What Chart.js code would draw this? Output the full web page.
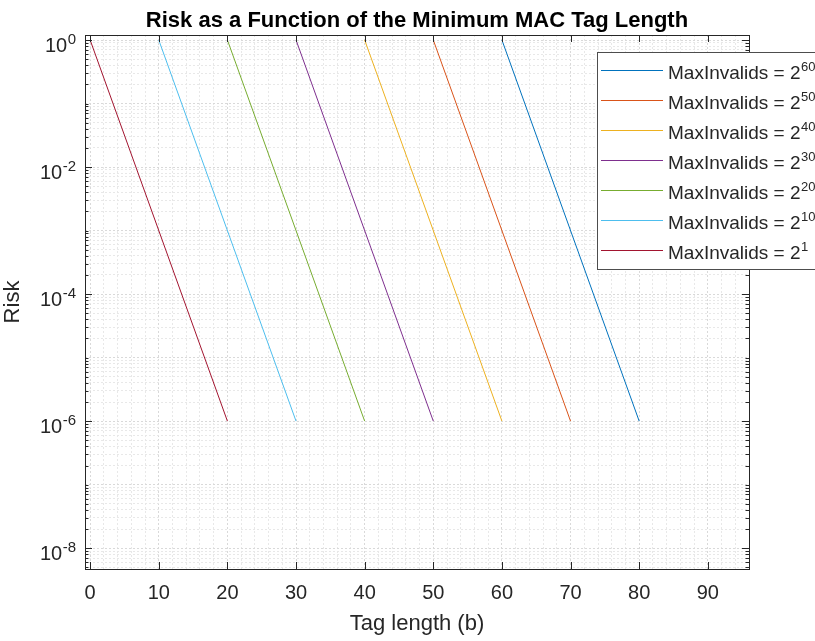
<!DOCTYPE html>
<html>
<head>
<meta charset="utf-8">
<script src="https://cdn.jsdelivr.net/npm/chart.js@4.4.1/dist/chart.umd.min.js"></script>
<style>
  body { margin: 0; background: #fff; }
  #wrap { width: 815px; height: 641px; }
</style>
</head>
<body>
<div id="wrap"><canvas id="riskChart" width="815" height="641"></canvas></div>
<script>
// one line per MaxInvalids value: risk falls from 1 to 1e-6 over 20 bits
const maxInvalidExps = ['60', '50', '40', '30', '20', '10', '1'];
const tagStart = [60, 50, 40, 30, 20, 10, 0];
const tagEnd = [80, 70, 60, 50, 40, 30, 20];
const riskStart = [1, 1, 1, 1, 1, 1, 1];
const riskEnd = [1e-6, 1e-6, 1e-6, 1e-6, 1e-6, 1e-6, 1e-6];

// axis ticks
const xTickValues = [0, 10, 20, 30, 40, 50, 60, 70, 80, 90];
const yTickValues = [1, 1e-2, 1e-4, 1e-6, 1e-8];
const yTickExps = ['0', '-2', '-4', '-6', '-8'];

// matlab default colour order
const lineColors = ['#0072BD', '#D95319', '#EDB120', '#7E2F8E', '#77AC30', '#4DBEEE', '#A2142F'];

const FONT = "'Liberation Sans', Arial, Helvetica, sans-serif";
const AXIS_COLOR = '#262626';

const datasets = maxInvalidExps.map((e, i) => ({
    label: 'MaxInvalids = 2^' + e,
    data: [
        {x: tagStart[i], y: riskStart[i]},
        {x: tagEnd[i], y: riskEnd[i]}
    ],
    borderColor: lineColors[i],
    backgroundColor: lineColors[i],
    borderWidth: 1,
    pointRadius: 0,
    fill: false,
    tension: 0
}));

// box, inward ticks, y labels with superscripts and the legend box
const matlabAxes = {
    id: 'matlabAxes',
    afterDatasetsDraw(chart) {
        const ctx = chart.ctx;
        const {left, right, top, bottom} = chart.chartArea;
        const xs = chart.scales.x;
        const ys = chart.scales.y;
        ctx.save();
        ctx.strokeStyle = AXIS_COLOR;
        ctx.lineWidth = 1;
        ctx.strokeRect(Math.round(left) + 0.5, Math.round(top) + 0.5,
            Math.round(right - left), Math.round(bottom - top));

        ctx.beginPath();
        xTickValues.forEach(v => {
            const px = Math.round(xs.getPixelForValue(v)) + 0.5;
            ctx.moveTo(px, bottom); ctx.lineTo(px, bottom - 7);
            ctx.moveTo(px, top); ctx.lineTo(px, top + 7);
        });
        ys.ticks.forEach(t => {
            const py = Math.round(ys.getPixelForValue(t.value)) + 0.5;
            const len = yTickValues.some(v => Math.abs(v - t.value) / v < 1e-6) ? 7 : 3.5;
            ctx.moveTo(left, py); ctx.lineTo(left + len, py);
            ctx.moveTo(right, py); ctx.lineTo(right - len, py);
        });
        ctx.stroke();
        ctx.restore();
    },
    afterDraw(chart) {
        const ctx = chart.ctx;
        const ys = chart.scales.y;
        ctx.save();
        ctx.fillStyle = AXIS_COLOR;
        ctx.textBaseline = 'alphabetic';

        // y tick labels: 10^n
        yTickValues.forEach((v, i) => {
            const py = ys.getPixelForValue(v);
            ctx.font = '15px ' + FONT;
            const supW = ctx.measureText(yTickExps[i]).width;
            const xr = 76;
            ctx.textAlign = 'left';
            ctx.fillText(yTickExps[i], xr - supW, py + 3.5);
            ctx.font = '20px ' + FONT;
            ctx.textAlign = 'right';
            ctx.fillText('10', xr - supW - 0.5, py + 12);
        });

        // legend
        const bx = 597.5, by = 52.5, bw = 240, bh = 217;
        ctx.fillStyle = '#fff';
        ctx.fillRect(bx, by, bw, bh);
        ctx.strokeStyle = '#4d4d4d';
        ctx.lineWidth = 1;
        ctx.strokeRect(bx, by, bw, bh);
        chart.data.datasets.forEach((ds, i) => {
            const ly = 70.5 + i * 30;
            ctx.strokeStyle = ds.borderColor;
            ctx.beginPath();
            ctx.moveTo(601, ly); ctx.lineTo(663, ly);
            ctx.stroke();
            ctx.fillStyle = AXIS_COLOR;
            ctx.textAlign = 'left';
            ctx.font = '19px ' + FONT;
            const base = 'MaxInvalids = 2';
            ctx.fillText(base, 668, ly + 8);
            const w = ctx.measureText(base).width;
            ctx.font = '13px ' + FONT;
            ctx.fillText(maxInvalidExps[i], 668 + w + 0.5, ly + 0.5);
        });
        ctx.restore();
    }
};

const ctx = document.getElementById('riskChart');
const riskChart = new Chart(ctx, {
    type: 'line',
    data: { datasets: datasets },
    options: {
        responsive: false,
        animation: false,
        layout: { padding: { top: 0, right: 66, bottom: 0, left: 0 } },
        plugins: {
            legend: { display: false },
            tooltip: { enabled: false },
            title: {
                display: true,
                fullSize: false,
                text: 'Risk as a Function of the Minimum MAC Tag Length',
                color: '#000',
                font: { family: FONT, size: 22, weight: 'bold' },
                padding: { top: 8, bottom: 0.6 }
            }
        },
        scales: {
            x: {
                type: 'linear',
                min: -0.75,
                max: 96,
                afterBuildTicks(scale) {
                    const t = [];
                    for (let v = 0; v <= 94; v += 2) t.push({value: v});
                    scale.ticks = t;
                },
                afterFit(scale) { scale.height = 72; },
                ticks: {
                    autoSkip: false,
                    maxRotation: 0,
                    padding: 12,
                    color: AXIS_COLOR,
                    font: { family: FONT, size: 20 },
                    callback: v => (v % 10 === 0 ? String(v) : '')
                },
                grid: {
                    drawTicks: false,
                    color: c => (c.tick && c.tick.value % 10 === 0 ? '#d9d9d9' : '#e8e8e8'),
                    lineWidth: 1
                },
                border: { display: false, dash: [2, 2] },
                title: {
                    display: true,
                    text: 'Tag length (b)',
                    color: AXIS_COLOR,
                    font: { family: FONT, size: 22 },
                    padding: { top: 0, bottom: 4 }
                }
            },
            y: {
                type: 'logarithmic',
                min: 4.7e-9,
                max: 1.2,
                afterBuildTicks(scale) {
                    const t = [];
                    for (let n = -9; n <= 0; n++) {
                        for (let k = 1; k <= 9; k++) {
                            const v = k * Math.pow(10, n);
                            if (v >= scale.min && v <= scale.max) t.push({value: v});
                        }
                    }
                    scale.ticks = t;
                },
                afterFit(scale) { scale.width = 85; },
                ticks: { display: false, autoSkip: false },
                grid: {
                    drawTicks: false,
                    color: c => {
                        const v = c.tick ? c.tick.value : 1;
                        const m = v / Math.pow(10, Math.floor(Math.log10(v) + 1e-9));
                        return Math.abs(m - 1) < 1e-6 ? '#d9d9d9' : '#e8e8e8';
                    },
                    lineWidth: 1
                },
                border: { display: false, dash: [2, 2] },
                title: {
                    display: true,
                    text: 'Risk',
                    color: AXIS_COLOR,
                    font: { family: FONT, size: 22 },
                    padding: { top: 0 }
                }
            }
        }
    },
    plugins: [matlabAxes]
});
</script>
</body>
</html>
